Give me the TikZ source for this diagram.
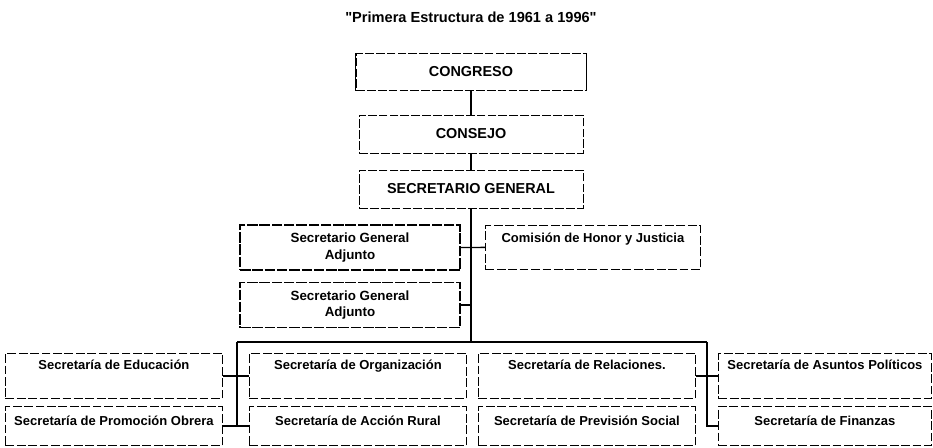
\documentclass[tikz,border=0pt]{standalone}
\usepackage{fontspec}
\setmainfont{Liberation Sans}
\begin{document}
\begin{tikzpicture}[x=0.02cm, y=-0.02cm,
  conn/.style={line width=0.8pt},
  topbox/.style={draw, dash pattern=on 5pt off 1.2pt, line width=0.5pt, inner sep=0pt,
    minimum width=4.48cm, minimum height=0.76cm, font=\bfseries\fontsize{8.2}{9}\selectfont},
  adjbox/.style={draw, dash pattern=on 6pt off 1pt, line width=0.6pt, inner sep=0pt, align=center,
    minimum width=4.4cm, minimum height=0.9cm, font=\bfseries\fontsize{7.6}{9.2}\selectfont},
  secbox/.style={draw, dash pattern=on 5pt off 1.5pt, line width=0.5pt, inner sep=0pt, anchor=north west,
    minimum width=4.34cm, text height=0.32cm, text depth=0.58cm, font=\bfseries\fontsize{7.4}{9}\selectfont},
  lowbox/.style={secbox, text height=0.38cm, text depth=0.4cm}]
\useasboundingbox (0,0) rectangle (933,447);

\node[font=\bfseries\fontsize{8.3}{9}\selectfont] (titulo) at (471,17) {\textquotedbl Primera Estructura de 1961 a 1996\textquotedbl};

\node[topbox, minimum width=4.6cm, minimum height=0.74cm] (congreso) at (471,72) {CONGRESO};
\draw[line width=1pt] (congreso.north west) -- (congreso.south west) (congreso.north east) -- (congreso.south east);
\node[topbox] (consejo) at (471,134) {CONSEJO};
\node[topbox] (sg) at (471,189) {SECRETARIO GENERAL};

\node[adjbox] (adj1) at (350,247.5) {Secretario General\\Adjunto};
\node[adjbox] (adj2) at (350,305) {Secretario General\\Adjunto};
\node[secbox, minimum width=4.3cm, text height=0.34cm, text depth=0.54cm] (comision) at (485,225) {Comisión de Honor y Justicia};

% secretarias
\node[secbox] (educ) at (5,353) {Secretaría de Educación};
\node[secbox] (organiz) at (249,353) {Secretaría de Organización};
\node[secbox] (relac) at (478,353) {Secretaría de Relaciones.};
\node[secbox, minimum width=4.26cm] (asuntos) at (718,353) {Secretaría de Asuntos Políticos};
\node[lowbox] (promo) at (5,406) {Secretaría de Promoción Obrera};
\node[lowbox] (accion) at (249,406) {Secretaría de Acción Rural};
\node[lowbox] (prevision) at (478,406) {Secretaría de Previsión Social};
\node[lowbox, minimum width=4.26cm] (finanzas) at (718,406) {Secretaría de Finanzas};

\coordinate (bus) at (471,342);
\coordinate (lbus) at (237,342);
\coordinate (rbus) at (707,342);

\draw[conn] (congreso.south) -- (consejo.north) (consejo.south) -- (sg.north) (sg.south) -- (bus);
\draw[conn] (adj1.east) -- (comision.west);
\draw[conn] (adj2.east) -- (adj2.east -| bus);
\draw[conn] (lbus) -- (rbus);
\draw[conn] (lbus) -- (lbus |- promo.east);
\draw[conn] (educ.east) -- (organiz.west);
\draw[conn] (promo.east) -- (accion.west);
\draw[conn] (rbus) -- (rbus |- finanzas.west) -- (finanzas.west);
\draw[conn] (relac.east) -- (asuntos.west);
\end{tikzpicture}
\end{document}
